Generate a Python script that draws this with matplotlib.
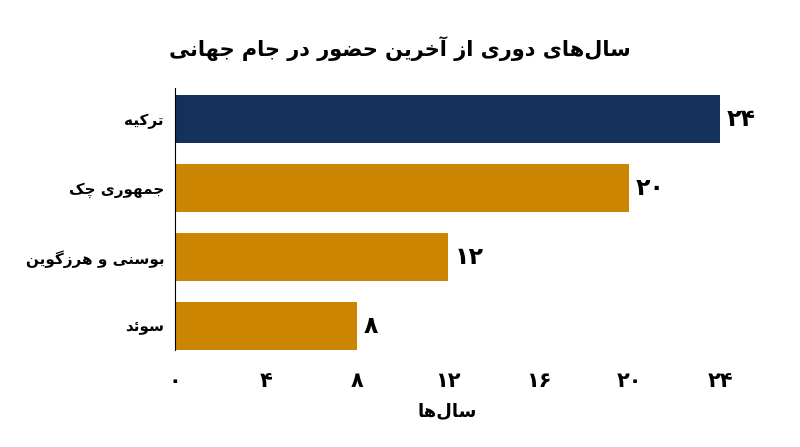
import matplotlib
matplotlib.use('Agg')
import matplotlib.pyplot as plt

# data
countries = ['ترکیه', 'جمهوری چک', 'بوسنی و هرزگوین', 'سوئد']
years = [24, 20, 12, 8]
bar_colors = ['#15315b', '#cc8500', '#cc8500', '#cc8500']
xticks = [0, 4, 8, 12, 16, 20, 24]
title = 'سال‌های دوری از آخرین حضور در جام جهانی'
xlabel = 'سال‌ها'

# matplotlib has no arabic shaping, so do it by hand:
# (isolated, final, initial, medial); two forms -> joins only on the right
FORMS = {
    'ا': (0xFE8D, 0xFE8E), 'آ': (0xFE81, 0xFE82),
    'ب': (0xFE8F, 0xFE90, 0xFE91, 0xFE92), 'پ': (0xFB56, 0xFB57, 0xFB58, 0xFB59),
    'ت': (0xFE95, 0xFE96, 0xFE97, 0xFE98), 'ج': (0xFE9D, 0xFE9E, 0xFE9F, 0xFEA0),
    'چ': (0xFB7A, 0xFB7B, 0xFB7C, 0xFB7D), 'ح': (0xFEA1, 0xFEA2, 0xFEA3, 0xFEA4),
    'خ': (0xFEA5, 0xFEA6, 0xFEA7, 0xFEA8), 'د': (0xFEA9, 0xFEAA),
    'ر': (0xFEAD, 0xFEAE), 'ز': (0xFEAF, 0xFEB0), 'ژ': (0xFB8A, 0xFB8B),
    'س': (0xFEB1, 0xFEB2, 0xFEB3, 0xFEB4), 'ض': (0xFEBD, 0xFEBE, 0xFEBF, 0xFEC0),
    'ک': (0xFB8E, 0xFB8F, 0xFB90, 0xFB91), 'گ': (0xFB92, 0xFB93, 0xFB94, 0xFB95),
    'ل': (0xFEDD, 0xFEDE, 0xFEDF, 0xFEE0), 'م': (0xFEE1, 0xFEE2, 0xFEE3, 0xFEE4),
    'ن': (0xFEE5, 0xFEE6, 0xFEE7, 0xFEE8), 'ه': (0xFEE9, 0xFEEA, 0xFEEB, 0xFEEC),
    'و': (0xFEED, 0xFEEE), 'ی': (0xFBFC, 0xFBFD, 0xFBFE, 0xFBFF),
    'ئ': (0xFE89, 0xFE8A, 0xFE8B, 0xFE8C),
}


def fa(text):
    out = []
    for i, ch in enumerate(text):
        if ch not in FORMS:
            if ch != '\u200c':
                out.append(ch)
            continue
        prev = text[i - 1] if i > 0 else ''
        nxt = text[i + 1] if i + 1 < len(text) else ''
        f = FORMS[ch]
        join_prev = prev in FORMS and len(FORMS[prev]) == 4
        join_next = len(f) == 4 and nxt in FORMS
        if join_prev and join_next:
            out.append(chr(f[3]))
        elif join_prev:
            out.append(chr(f[1]))
        elif join_next:
            out.append(chr(f[2]))
        else:
            out.append(chr(f[0]))
    return ''.join(reversed(out))


def fa_num(n):
    return str(n).translate(str.maketrans('0123456789', '۰۱۲۳۴۵۶۷۸۹'))


plt.rcParams['font.family'] = ['DejaVu Sans']

fig = plt.figure(figsize=(8, 4.47), dpi=100)
ax = fig.add_axes([0.219, 0.217, 0.681, 0.586])

pos = list(range(len(countries)))
ax.barh(pos, years, height=0.7, color=bar_colors)
for p, v in zip(pos, years):
    ax.text(v + 0.3, p, fa_num(v), va='center', ha='left',
            fontsize=17, fontweight='bold')

ax.set_ylim(3.35, -0.45)
ax.set_xlim(0, 24)
ax.set_yticks(pos)
ax.set_yticklabels([fa(c) for c in countries], fontsize=11, fontweight='bold')
ax.set_xticks(xticks)
ax.set_xticklabels([fa_num(t) for t in xticks], fontsize=15, fontweight='bold')
ax.tick_params(axis='x', length=0, pad=15)
ax.tick_params(axis='y', length=0, pad=8)
ax.set_xlabel(fa(xlabel), fontsize=13, fontweight='bold', labelpad=8)

for s in ['top', 'right', 'bottom']:
    ax.spines[s].set_visible(False)
ax.spines['left'].set_linewidth(0.8)

fig.text(0.5, 0.892, fa(title), ha='center', va='center',
         fontsize=15, fontweight='bold')

fig.savefig('out.png', dpi=100)
